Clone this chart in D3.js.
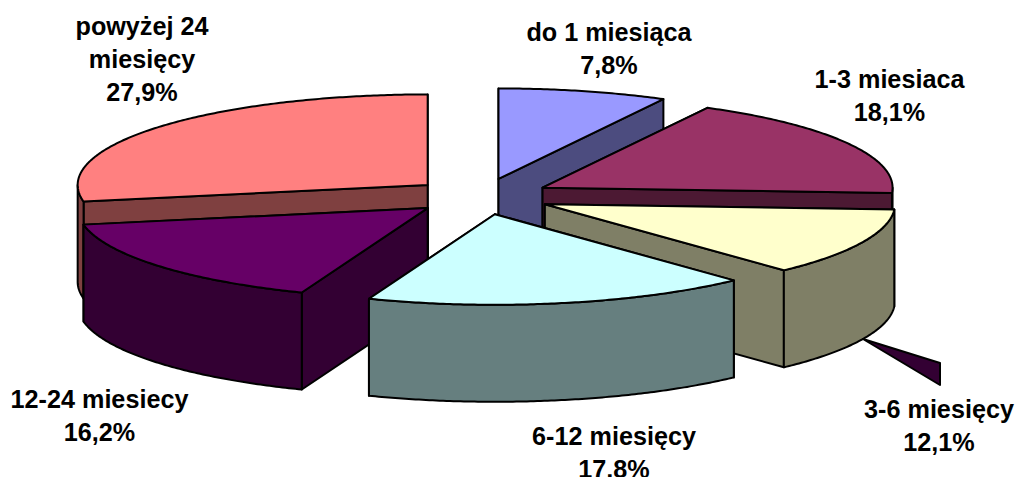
<!DOCTYPE html>
<html>
<head>
<meta charset="utf-8">
<script src="https://cdn.jsdelivr.net/npm/d3@7"></script>
<style>
  html, body { margin: 0; padding: 0; background: #ffffff; overflow: hidden; }
  svg { display: block; }
</style>
</head>
<body>
<div id="chart"></div>
<script>
const categories = ["do 1 miesiąca", "1-3 miesiaca", "3-6 miesięcy", "6-12 miesięcy", "12-24 miesiecy", "powyżej 24 miesięcy"];
const values = [7.8, 18.1, 12.1, 17.8, 16.2, 27.9];
const topColors = ["#9999ff", "#993366", "#ffffcc", "#ccffff", "#660066", "#ff8080"];
const wallColors = ["#4c4c7f", "#4c1933", "#7f7f66", "#667f7f", "#330033", "#7f4040"];

// label layout: centre x, first baseline y, and wrapped lines of the category
const labelX = [609, 889.5, 939, 614, 99.5, 142];
const labelY = [41, 88, 418, 445, 408, 35];
const labelLines = [["do 1 miesiąca"], ["1-3 miesiaca"], ["3-6 miesięcy"], ["6-12 miesięcy"], ["12-24 miesiecy"], ["powyżej 24", "miesięcy"]];

const width = 1018, height = 477;
const depth = 97;
const explode = 0.2;

const x = d3.scaleLinear().domain([-1, 1]).range([131.5, 831.5]);
const y = d3.scaleLinear().domain([-1, 1]).range([287, 106]);

const svg = d3.select("#chart").append("svg")
    .attr("width", width)
    .attr("height", height);

const arcs = d3.pie().sort(null).value(d => d)(values);

const slices = arcs.map((a, i) => {
    const mid = (a.startAngle + a.endAngle) / 2;
    const ox = explode * Math.sin(mid), oy = explode * Math.cos(mid);
    const rimPoint = t => [x(ox + Math.sin(t)), y(oy + Math.cos(t))];
    return {
        i, ox, oy, rimPoint,
        start: a.startAngle,
        end: a.endAngle,
        apex: [x(ox), y(oy)]
    };
});

const line = d3.line();
const lower = p => [p[0], p[1] + depth];
const angles = (from, to) => d3.range(from, to, 0.01).concat([to]);

function face(points, fill) {
    svg.append("path")
        .attr("d", line(points) + "Z")
        .attr("fill", fill)
        .attr("stroke", "#000000")
        .attr("stroke-width", 2)
        .attr("stroke-linejoin", "round");
}

// the slices nearest the back are painted first
slices.slice().sort((a, b) => a.apex[1] - b.apex[1]).forEach(s => {
    const wall = wallColors[s.i];

    // cut walls, the one reaching further back goes first
    [s.start, s.end]
        .map(t => s.rimPoint(t))
        .sort((a, b) => a[1] - b[1])
        .forEach(p => face([s.apex, p, lower(p), lower(s.apex)], wall));

    // outer wall, only the front half of the ellipse can be seen
    const from = Math.max(s.start, Math.PI / 2), to = Math.min(s.end, Math.PI * 1.5);
    if (from < to) {
        const rim = angles(from, to).map(s.rimPoint);
        face(rim.concat(rim.map(lower).reverse()), wall);
    }

    face([s.apex].concat(angles(s.start, s.end).map(s.rimPoint)), topColors[s.i]);
});

// stray leader of the 3-6 label, it came out extruded in the original
face([[863, 339], [940, 363], [940, 385]], wallColors[4]);

const fmt = v => v.toFixed(1).replace(".", ",") + "%";

categories.forEach((c, i) => {
    const text = svg.append("text")
        .attr("text-anchor", "middle")
        .attr("font-family", "'Liberation Sans', Arial, sans-serif")
        .attr("font-weight", "bold")
        .attr("font-size", "25.2px")
        .attr("fill", "#000000");
    labelLines[i].concat([fmt(values[i])]).forEach((t, k) => {
        text.append("tspan")
            .attr("x", labelX[i])
            .attr("y", labelY[i] + k * 32.8)
            .text(t);
    });
});
</script>
</body>
</html>
